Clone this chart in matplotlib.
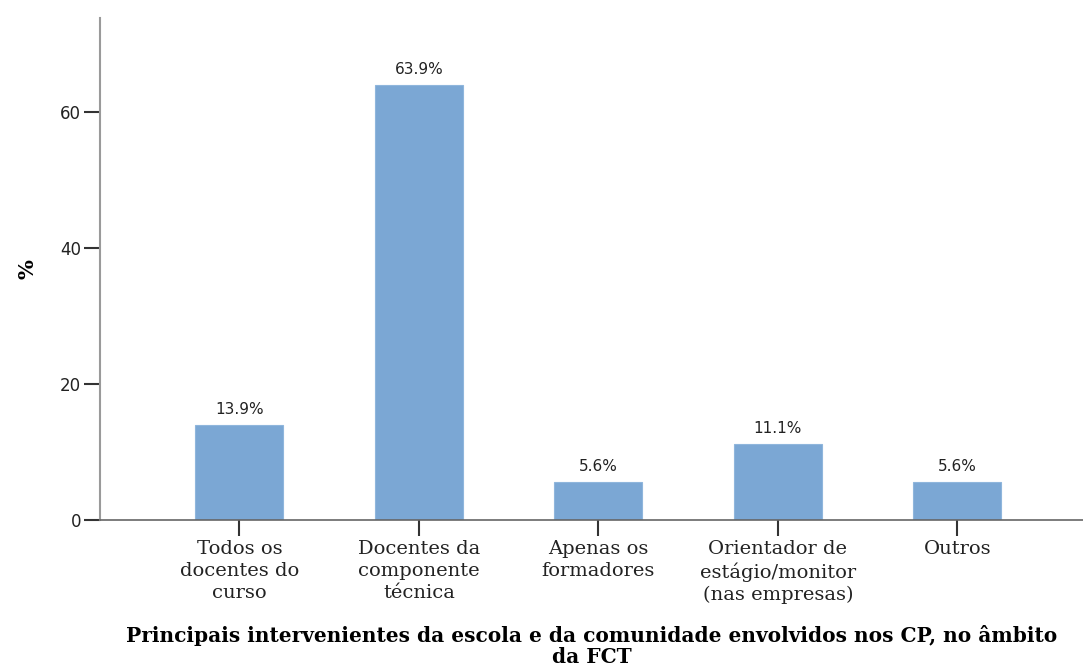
import matplotlib.pyplot as plt
import numpy as np

# categorias e percentagens
categorias = ['Todos os\ndocentes do\ncurso',
              'Docentes da\ncomponente\ntécnica',
              'Apenas os\nformadores',
              'Orientador de\nestágio/monitor\n(nas empresas)',
              'Outros']
percentagens = [13.9, 63.9, 5.6, 11.1, 5.6]
yticks = [0, 20, 40, 60]

fig = plt.figure(figsize=(10.83, 6.66), dpi=100)
ax = fig.add_axes([100/1083, 1 - 520/666, 983/1083, (520 - 18)/666])

x = np.arange(len(categorias))
bars = ax.bar(x, percentagens, width=0.49, color='#7ba7d4', edgecolor='#8fb6dc', linewidth=0.8, zorder=2)

for b, v in zip(bars, percentagens):
    ax.text(b.get_x() + b.get_width()/2, v + 1.2, f'{v:.1f}%', ha='center', va='bottom',
            fontsize=11, family='DejaVu Sans', color='#222222')

ax.set_xlim(-0.777, 4.70)
ax.set_ylim(0, 73.8)
ax.set_yticks(yticks)
ax.set_xticks(x)
ax.set_xticklabels(categorias, family='DejaVu Serif', fontsize=14, linespacing=1.27, color='#222222')
ax.set_yticklabels([str(t) for t in yticks], family='DejaVu Sans', fontsize=12, color='#222222')

ax.spines['top'].set_visible(False)
ax.spines['right'].set_visible(False)
ax.spines['left'].set_color('#9a9a9a')
ax.spines['left'].set_linewidth(1.5)
ax.spines['bottom'].set_color('#666666')
ax.spines['bottom'].set_linewidth(1.2)
ax.tick_params(axis='both', length=11.5, width=1.5, color='#333333')
ax.tick_params(axis='x', pad=3)
ax.tick_params(axis='y', pad=2)

ax.set_ylabel('%', family='DejaVu Serif', fontweight='bold', fontsize=15, labelpad=16)
ax.set_xlabel('Principais intervenientes da escola e da comunidade envolvidos nos CP, no âmbito\nda FCT',
              family='DejaVu Serif', fontweight='bold', fontsize=14.5, linespacing=1.08, labelpad=15)

fig.savefig('out.png', dpi=100)
